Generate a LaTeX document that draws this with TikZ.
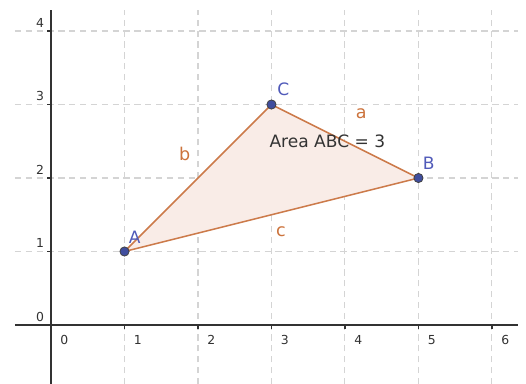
\documentclass[tikz,border=0pt]{standalone}
\usepackage{fontspec}
\setmainfont{DejaVu Sans}
\definecolor{gridgray}{RGB}{212,212,212}
\definecolor{axisgray}{RGB}{50,50,50}
\definecolor{edgeorange}{RGB}{204,122,74}
\definecolor{fillpink}{RGB}{249,236,231}
\definecolor{sideorange}{RGB}{204,115,60}
\definecolor{ptblue}{RGB}{64,78,158}
\definecolor{lblblue}{RGB}{80,90,185}
\tikzset{
    gridline/.style={gridgray, line width=0.4pt, dash pattern=on 2.4pt off 1.8pt},
    axisline/.style={axisgray, line width=0.6pt},
    ticklabel/.style={font=\fontsize{4.8}{5}\selectfont, text=axisgray, inner sep=0pt},
    ptlabel/.style={font=\fontsize{6.6}{7}\selectfont, text=lblblue, inner sep=0pt},
    sidelabel/.style={font=\fontsize{6.8}{7}\selectfont, text=sideorange, inner sep=0pt},
    ptdot/.style={circle, fill=ptblue, draw=black!75, line width=0.3pt, inner sep=0pt, minimum size=0.125cm}
}
\begin{document}
\begin{tikzpicture}
    \useasboundingbox (-0.694,-0.803) rectangle (6.463,4.422);

    % Grid
    \foreach \x in {1,...,6} \draw[gridline] (\x,-0.803) -- (\x,4.29);
    \foreach \y in {1,...,4} \draw[gridline] (-0.49,\y) -- (6.35,\y);

    % Axes
    \draw[axisline] (-0.49,0) -- (6.35,0);
    \draw[axisline] (0,-0.803) -- (0,4.29);
    \foreach \x in {1,...,6} \draw[axisline] (\x,0) -- (\x,-0.055);
    \foreach \y in {1,...,4} \draw[axisline] (0,\y) -- (-0.055,\y);
    \foreach \x in {0,...,6} \node[ticklabel] (xl\x) at (\x+0.18,-0.2) {\x};
    \foreach \y in {0,...,4} \node[ticklabel] (yl\y) at (-0.15,\y+0.112) {\y};

    % Triangle
    \coordinate (A) at (1,1);
    \coordinate (B) at (5,2);
    \coordinate (C) at (3,3);
    \draw[edgeorange, line width=0.6pt, fill=fillpink] (A) -- (B) -- (C) -- cycle;

    % Side labels
    \node[sidelabel] (la) at (4.22,2.88) {a};
    \node[sidelabel] (lb) at (1.82,2.33) {b};
    \node[sidelabel] (lc) at (3.13,1.27) {c};

    % Area
    \node[font=\fontsize{6.6}{7}\selectfont, text=black!80, inner sep=0pt] (area) at (3.76,2.50) {Area ABC = 3};

    % Points
    \node[ptdot] (dA) at (A) {};
    \node[ptdot] (dB) at (B) {};
    \node[ptdot] (dC) at (C) {};
    \node[ptlabel] (lA) at (1.14,1.20) {A};
    \node[ptlabel] (lB) at (5.14,2.20) {B};
    \node[ptlabel] (lC) at (3.16,3.21) {C};
\end{tikzpicture}
\end{document}
